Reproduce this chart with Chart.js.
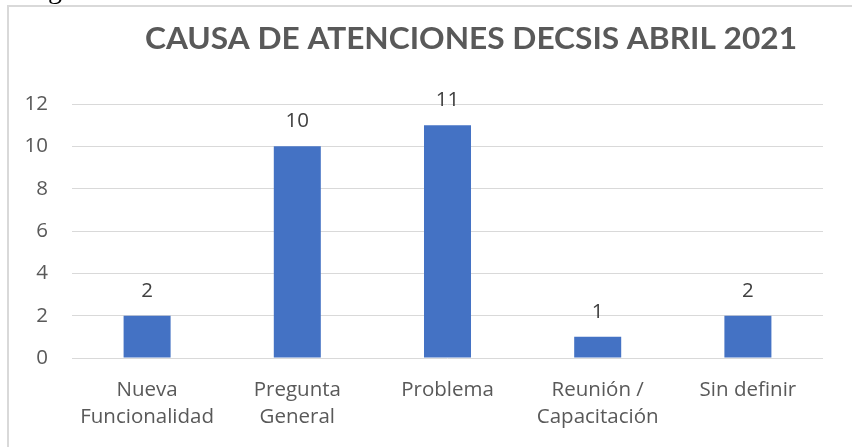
<!DOCTYPE html>
<html>
<head>
<meta charset="utf-8">
<script src="https://cdn.jsdelivr.net/npm/chart.js@4/dist/chart.umd.min.js"></script>
<style>
  html, body { margin: 0; padding: 0; background: #ffffff; overflow: hidden; }
  #wrap { position: absolute; left: 0; top: 0; width: 852px; height: 447px; }
  #frame { position: absolute; left: 7px; top: 5px; width: 1000px; height: 1000px; border: 2px solid #d9d9d9; box-sizing: border-box; }
  canvas { position: absolute; left: 0; top: 0; }
</style>
</head>
<body>
<div id="wrap">
  <div id="frame"></div>
  <canvas id="c" width="852" height="447"></canvas>
</div>
<script>
const chartTitle = "CAUSA DE ATENCIONES DECSIS ABRIL 2021";
const categories = [["Nueva", "Funcionalidad"], ["Pregunta", "General"], ["Problema"], ["Reunión /", "Capacitación"], ["Sin definir"]];
const values = [2, 10, 11, 1, 2];
const yTicks = [0, 2, 4, 6, 8, 10, 12];

const labelFont = "'Open Sans', 'DejaVu Sans', sans-serif";
const labelSize = 20.5;

const decorPlugin = {
  id: 'decor',
  afterDraw(chart) {
    const ctx = chart.ctx;
    // title
    ctx.save();
    ctx.font = "bold 31px Lato, 'Open Sans', sans-serif";
    ctx.fillStyle = '#595959';
    ctx.textBaseline = 'alphabetic';
    ctx.textAlign = 'left';
    const w = ctx.measureText(chartTitle).width;
    const target = 652;
    const sx = target / w;
    ctx.translate(471 - target / 2, 49);
    ctx.scale(sx, 1);
    ctx.fillText(chartTitle, 0, 0);
    ctx.restore();

    // data labels
    ctx.save();
    ctx.font = labelSize + "px " + labelFont;
    ctx.fillStyle = '#404040';
    ctx.textAlign = 'center';
    ctx.textBaseline = 'alphabetic';
    const meta = chart.getDatasetMeta(0);
    meta.data.forEach((bar, i) => {
      ctx.fillText(String(values[i]), bar.x, bar.y - 19);
    });
    ctx.restore();

    // cropped glyph from surrounding document
    ctx.save();
    ctx.font = "28px 'Liberation Serif', serif";
    ctx.fillStyle = '#000000';
    ctx.textAlign = 'center';
    ctx.textBaseline = 'alphabetic';
    ctx.fillText('g', 55, -2);
    ctx.restore();
  }
};

new Chart(document.getElementById('c'), {
  type: 'bar',
  data: {
    labels: categories,
    datasets: [{
      data: values,
      backgroundColor: '#4472C4',
      borderWidth: 0,
      categoryPercentage: 1,
      barPercentage: 0.313
    }]
  },
  options: {
    responsive: false,
    animation: false,
    devicePixelRatio: 1,
    layout: { padding: { left: 0, right: 29, top: 104, bottom: 0 } },
    plugins: { legend: { display: false }, title: { display: false }, tooltip: { enabled: false } },
    scales: {
      x: {
        grid: { display: false, drawTicks: false },
        border: { display: false },
        ticks: {
          color: '#595959',
          font: { family: labelFont, size: labelSize, lineHeight: 27 / labelSize },
          padding: 19,
          maxRotation: 0,
          autoSkip: false
        },
        afterFit(scale) { scale.height = 89; }
      },
      y: {
        min: 0,
        max: 12,
        afterBuildTicks(scale) { scale.ticks = yTicks.map(v => ({ value: v })); },
        grid: { color: '#d9d9d9', lineWidth: 1, drawTicks: false },
        border: { display: false },
        ticks: {
          color: '#595959',
          font: { family: labelFont, size: labelSize },
          padding: 24
        },
        afterFit(scale) { scale.width = 72; }
      }
    }
  },
  plugins: [decorPlugin]
});
</script>
</body>
</html>
